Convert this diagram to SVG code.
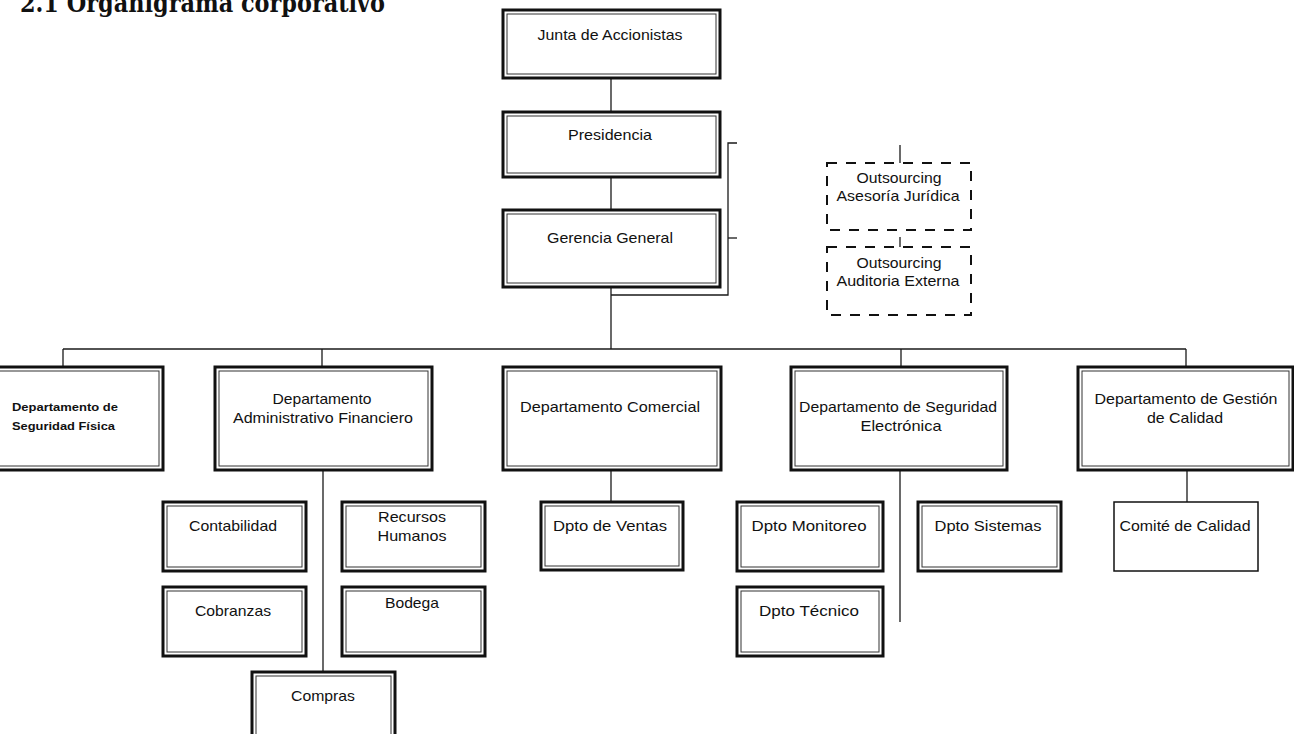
<svg xmlns="http://www.w3.org/2000/svg" width="1294" height="734" viewBox="0 0 1294 734">
  <style>
    .box-outer { fill: #ffffff; stroke: #111111; stroke-width: 3; }
    .box-inner { fill: none; stroke: #333333; stroke-width: 1; }
    .box-thin { fill: #ffffff; stroke: #111111; stroke-width: 1.5; }
    .box-dash { fill: #ffffff; stroke: #111111; stroke-width: 2; stroke-dasharray: 10 9; }
    .link { fill: none; stroke: #1a1a1a; stroke-width: 1.3; }
    .lbl { font-family: "Liberation Sans", Arial, sans-serif; font-size: 14.5px; fill: #111111; text-anchor: middle; }
    .lbl-bold { font-family: "Liberation Sans", Arial, sans-serif; font-size: 11.5px; font-weight: bold; fill: #111111; }
    .title { font-family: "DejaVu Serif", "Liberation Serif", serif; font-size: 26px; font-weight: bold; fill: #111111; }
  </style>

  <rect width="1294" height="734" fill="#ffffff"/>

  <text class="title" x="20" y="12" textLength="365" lengthAdjust="spacingAndGlyphs">2.1 Organigrama corporativo</text>

  <!-- connectors -->
  <g id="connectors">
    <path class="link" d="M611 78 V112"/>
    <path class="link" d="M611 177 V210"/>
    <path class="link" d="M611 287 V349"/>
    <!-- bracket tying the outsourced services to top management -->
    <path class="link" d="M611 295 H728 V143 H737"/>
    <path class="link" d="M728 238 H737"/>
    <path class="link" d="M900 145 V163"/>
    <path class="link" d="M900 237 V247"/>
    <!-- department bus -->
    <path class="link" d="M63 349 H1186"/>
    <path class="link" d="M63 349 V367"/>
    <path class="link" d="M322 349 V367"/>
    <path class="link" d="M901 349 V367"/>
    <path class="link" d="M1186 349 V367"/>
    <!-- sub-department drops -->
    <path class="link" d="M323 470 V672"/>
    <path class="link" d="M611 470 V502"/>
    <path class="link" d="M900 470 V622"/>
    <path class="link" d="M1187 470 V502"/>
  </g>

  <!-- top management -->
  <g id="junta">
    <rect class="box-outer" x="503" y="10" width="217" height="68"/>
    <rect class="box-inner" x="507" y="14" width="209" height="60"/>
    <text class="lbl" x="610" y="40" textLength="145" lengthAdjust="spacingAndGlyphs">Junta de Accionistas</text>
  </g>
  <g id="presidencia">
    <rect class="box-outer" x="503" y="112" width="217" height="65"/>
    <rect class="box-inner" x="507" y="116" width="209" height="57"/>
    <text class="lbl" x="610" y="140" textLength="84" lengthAdjust="spacingAndGlyphs">Presidencia</text>
  </g>
  <g id="gerencia">
    <rect class="box-outer" x="503" y="210" width="217" height="77"/>
    <rect class="box-inner" x="507" y="214" width="209" height="69"/>
    <text class="lbl" x="610" y="243" textLength="126" lengthAdjust="spacingAndGlyphs">Gerencia General</text>
  </g>

  <!-- outsourced services -->
  <g id="asesoria">
    <rect class="box-dash" x="827" y="163" width="144" height="67"/>
    <text class="lbl" x="899" y="183" textLength="85" lengthAdjust="spacingAndGlyphs">Outsourcing</text>
    <text class="lbl" x="898" y="201" textLength="123" lengthAdjust="spacingAndGlyphs">Asesoría Jurídica</text>
  </g>
  <g id="auditoria">
    <rect class="box-dash" x="827" y="247" width="144" height="68"/>
    <text class="lbl" x="899" y="268" textLength="85" lengthAdjust="spacingAndGlyphs">Outsourcing</text>
    <text class="lbl" x="898" y="286" textLength="123" lengthAdjust="spacingAndGlyphs">Auditoria Externa</text>
  </g>

  <!-- departments -->
  <g id="seguridad-fisica">
    <rect class="box-outer" x="-10" y="367" width="173" height="103"/>
    <rect class="box-inner" x="-6" y="371" width="165" height="95"/>
    <text class="lbl-bold" x="12" y="411" textLength="106" lengthAdjust="spacingAndGlyphs">Departamento de</text>
    <text class="lbl-bold" x="12" y="430" textLength="103" lengthAdjust="spacingAndGlyphs">Seguridad Física</text>
  </g>
  <g id="administrativo">
    <rect class="box-outer" x="215" y="367" width="217" height="103"/>
    <rect class="box-inner" x="219" y="371" width="209" height="95"/>
    <text class="lbl" x="322" y="404" textLength="99" lengthAdjust="spacingAndGlyphs">Departamento</text>
    <text class="lbl" x="323" y="423" textLength="180" lengthAdjust="spacingAndGlyphs">Administrativo Financiero</text>
  </g>
  <g id="comercial">
    <rect class="box-outer" x="503" y="367" width="218" height="103"/>
    <rect class="box-inner" x="507" y="371" width="210" height="95"/>
    <text class="lbl" x="610" y="412" textLength="180" lengthAdjust="spacingAndGlyphs">Departamento Comercial</text>
  </g>
  <g id="seguridad-electronica">
    <rect class="box-outer" x="791" y="367" width="216" height="103"/>
    <rect class="box-inner" x="795" y="371" width="208" height="95"/>
    <text class="lbl" x="898" y="412" textLength="198" lengthAdjust="spacingAndGlyphs">Departamento de Seguridad</text>
    <text class="lbl" x="901" y="431" textLength="81" lengthAdjust="spacingAndGlyphs">Electrónica</text>
  </g>
  <g id="gestion-calidad">
    <rect class="box-outer" x="1078" y="367" width="215" height="103"/>
    <rect class="box-inner" x="1082" y="371" width="207" height="95"/>
    <text class="lbl" x="1186" y="404" textLength="183" lengthAdjust="spacingAndGlyphs">Departamento de Gestión</text>
    <text class="lbl" x="1185" y="423" textLength="76" lengthAdjust="spacingAndGlyphs">de Calidad</text>
  </g>

  <!-- administrative and finance units -->
  <g id="contabilidad">
    <rect class="box-outer" x="163" y="502" width="143" height="69"/>
    <rect class="box-inner" x="167" y="506" width="135" height="61"/>
    <text class="lbl" x="233" y="531" textLength="88" lengthAdjust="spacingAndGlyphs">Contabilidad</text>
  </g>
  <g id="recursos-humanos">
    <rect class="box-outer" x="342" y="502" width="143" height="69"/>
    <rect class="box-inner" x="346" y="506" width="135" height="61"/>
    <text class="lbl" x="412" y="522" textLength="68" lengthAdjust="spacingAndGlyphs">Recursos</text>
    <text class="lbl" x="412" y="541" textLength="69" lengthAdjust="spacingAndGlyphs">Humanos</text>
  </g>
  <g id="cobranzas">
    <rect class="box-outer" x="163" y="587" width="143" height="69"/>
    <rect class="box-inner" x="167" y="591" width="135" height="61"/>
    <text class="lbl" x="233" y="616" textLength="76" lengthAdjust="spacingAndGlyphs">Cobranzas</text>
  </g>
  <g id="bodega">
    <rect class="box-outer" x="342" y="587" width="143" height="69"/>
    <rect class="box-inner" x="346" y="591" width="135" height="61"/>
    <text class="lbl" x="412" y="608" textLength="54" lengthAdjust="spacingAndGlyphs">Bodega</text>
  </g>
  <g id="compras">
    <rect class="box-outer" x="252" y="672" width="143" height="80"/>
    <rect class="box-inner" x="256" y="676" width="135" height="72"/>
    <text class="lbl" x="323" y="701" textLength="64" lengthAdjust="spacingAndGlyphs">Compras</text>
  </g>

  <!-- sales -->
  <g id="ventas">
    <rect class="box-outer" x="541" y="502" width="142" height="68"/>
    <rect class="box-inner" x="545" y="506" width="134" height="60"/>
    <text class="lbl" x="610" y="531" textLength="114" lengthAdjust="spacingAndGlyphs">Dpto  de Ventas</text>
  </g>

  <!-- electronic security units -->
  <g id="monitoreo">
    <rect class="box-outer" x="737" y="502" width="146" height="69"/>
    <rect class="box-inner" x="741" y="506" width="138" height="61"/>
    <text class="lbl" x="809" y="531" textLength="115" lengthAdjust="spacingAndGlyphs">Dpto  Monitoreo</text>
  </g>
  <g id="tecnico">
    <rect class="box-outer" x="737" y="587" width="146" height="69"/>
    <rect class="box-inner" x="741" y="591" width="138" height="61"/>
    <text class="lbl" x="809" y="616" textLength="100" lengthAdjust="spacingAndGlyphs">Dpto  Técnico</text>
  </g>
  <g id="sistemas">
    <rect class="box-outer" x="918" y="502" width="143" height="69"/>
    <rect class="box-inner" x="922" y="506" width="135" height="61"/>
    <text class="lbl" x="988" y="531" textLength="107" lengthAdjust="spacingAndGlyphs">Dpto  Sistemas</text>
  </g>

  <!-- quality -->
  <g id="comite-calidad">
    <rect class="box-thin" x="1114" y="502" width="144" height="69"/>
    <text class="lbl" x="1185" y="531" textLength="131" lengthAdjust="spacingAndGlyphs">Comité de Calidad</text>
  </g>
</svg>
